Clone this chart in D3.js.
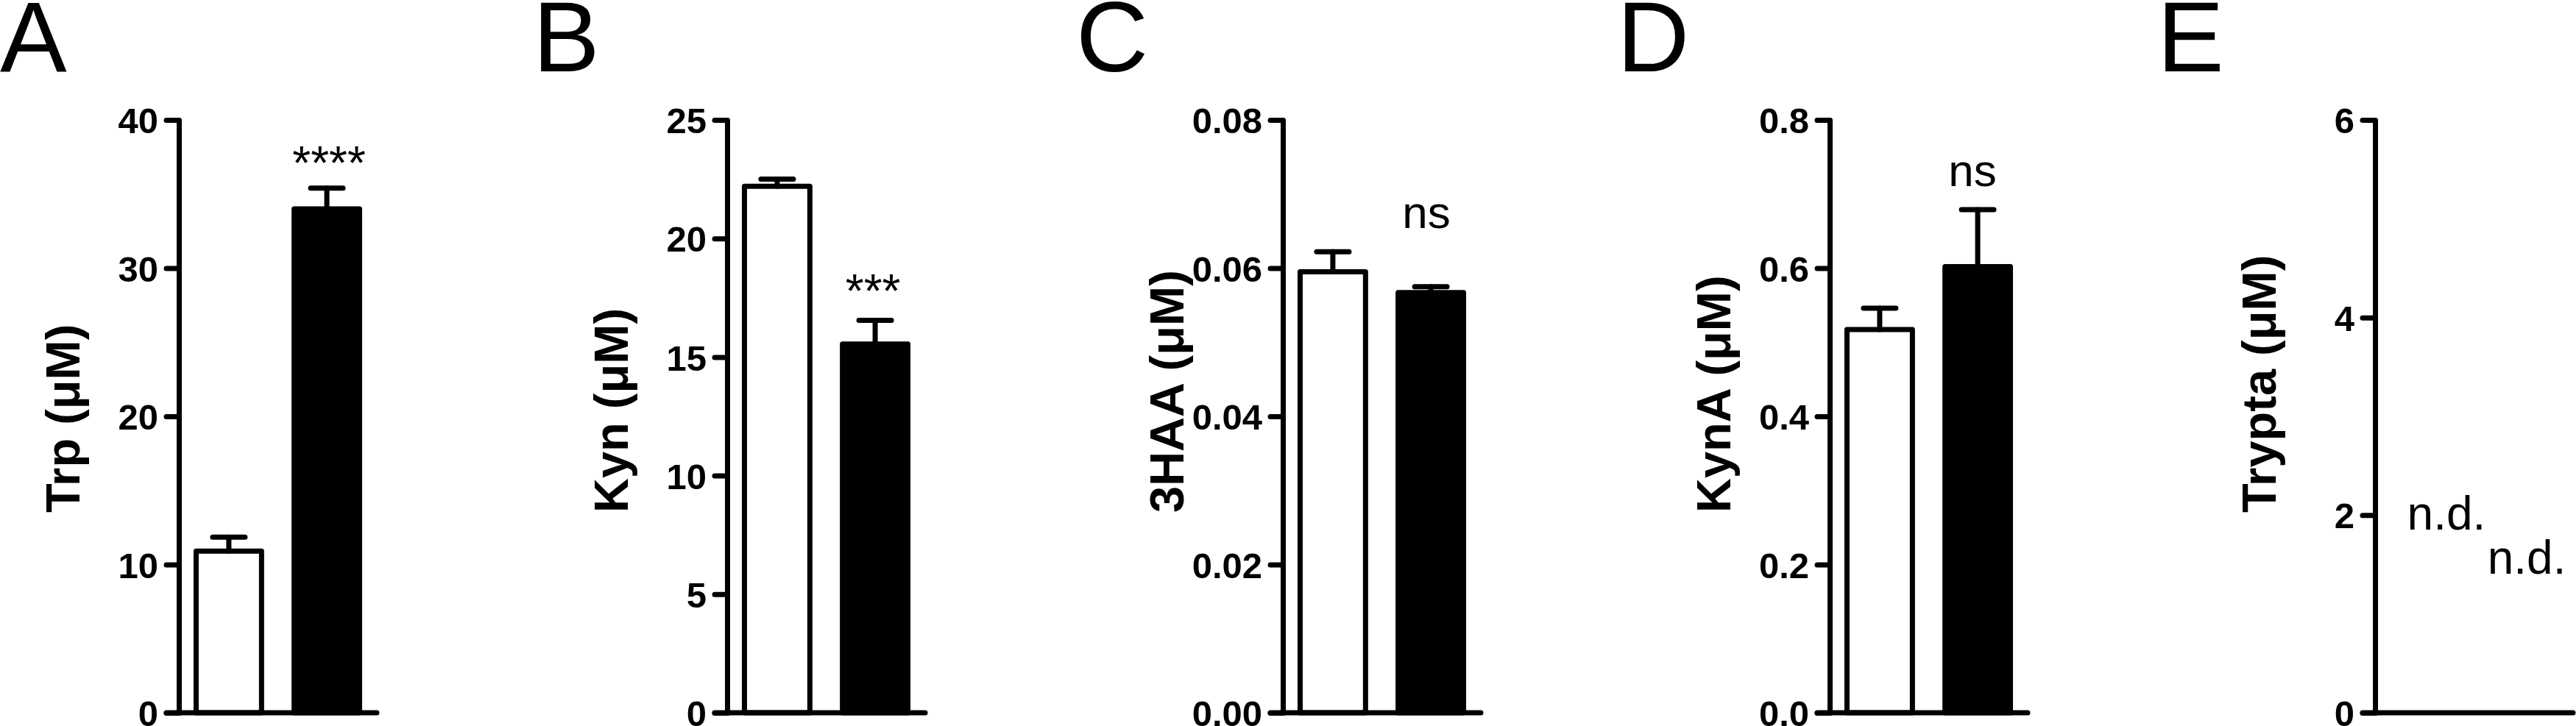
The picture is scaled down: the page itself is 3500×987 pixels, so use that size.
<!DOCTYPE html>
<html>
<head>
<meta charset="utf-8">
<script src="https://cdn.jsdelivr.net/npm/d3@7"></script>
<style>
  body { margin: 0; background: #fff; }
  svg { display: block; font-family: "Liberation Sans", Arial, Helvetica, sans-serif; }
  .axis path, .axis line { stroke: #000; stroke-width: 7; stroke-linecap: round; }
  .axis text { font-size: 49px; font-weight: bold; fill: #000; }
</style>
</head>
<body>
<div id="chart"></div>
<script>
// ---- data ----
var groups = ["Control", "Treated"];
var panelLetters = ["A", "B", "C", "D", "E"];
var yTitles = ["Trp (μM)", "Kyn (μM)", "3HAA (μM)", "KynA (μM)", "Trypta (μM)"];
var yMax = [40, 25, 0.08, 0.8, 6];
var yTicks = [
  [0, 10, 20, 30, 40],
  [0, 5, 10, 15, 20, 25],
  [0, 0.02, 0.04, 0.06, 0.08],
  [0, 0.2, 0.4, 0.6, 0.8],
  [0, 2, 4, 6]
];
var tickFormats = ["d", "d", ".2f", ".1f", "d"];
var trpMean = [10.9, 34.0], trpSem = [0.95, 1.4];
var kynMean = [22.2, 15.55], kynSem = [0.3, 1.0];
var haaMean = [0.0595, 0.0567], haaSem = [0.0027, 0.0008];
var kynaMean = [0.517, 0.602], kynaSem = [0.029, 0.077];
var tryptaMean = [null, null], tryptaSem = [null, null];   // not detected
var means = [trpMean, kynMean, haaMean, kynaMean, tryptaMean];
var sems = [trpSem, kynSem, haaSem, kynaSem, tryptaSem];
var annotations = [["", "****"], ["", "***"], ["", "ns"], ["", "ns"], ["n.d.", "n.d."]];

// ---- layout ----
var width = 3500, height = 987;
var axisX = [243, 988, 1743, 2486, 3227];
var letterX = [0, 724, 1462, 2197, 2931];
var yTop = 163, yBottom = 969;
var annotY = [[0, 36.0], [0, 17.1], [0, 0.0654], [0, 0.711], [1.85, 1.41]];
var annotDx = [[0, 3], [0, -3], [0, -6], [0, -7], [29, 5]];
var annotSize = [64, 64, 62, 62, 64];
var sw = 7;

var svg = d3.select("#chart").append("svg")
  .attr("width", width)
  .attr("height", height);

svg.append("rect").attr("width", width).attr("height", height).attr("fill", "#fff");

panelLetters.forEach(function(letter, i) {
  // panel letter
  svg.append("text")
    .attr("x", letterX[i])
    .attr("y", 97)
    .attr("font-size", 136)
    .attr("fill", "#000")
    .text(letter);

  var g = svg.append("g").attr("transform", "translate(" + axisX[i] + ",0)");

  var y = d3.scaleLinear().domain([0, yMax[i]]).range([yBottom, yTop]);
  var x = d3.scaleBand().domain(groups).range([0, 269]).paddingInner(0.28).paddingOuter(0.15);

  // bars
  var data = groups.map(function(gr, j) {
    return { group: gr, mean: means[i][j], sem: sems[i][j], idx: j };
  });
  var valid = data.filter(function(d) { return d.mean !== null; });

  g.selectAll(".bar")
    .data(valid)
    .enter().append("rect")
      .attr("class", "bar")
      .attr("x", function(d) { return x(d.group) + sw / 2; })
      .attr("y", function(d) { return y(d.mean); })
      .attr("width", x.bandwidth() - sw)
      .attr("height", function(d) { return y(0) - y(d.mean); })
      .attr("fill", function(d) { return d.idx === 0 ? "#fff" : "#000"; })
      .attr("stroke", "#000")
      .attr("stroke-width", sw)
      .attr("stroke-linejoin", "round");

  // error bars (upper only)
  var eb = g.selectAll(".err")
    .data(valid)
    .enter().append("g")
      .attr("class", "err")
      .attr("stroke", "#000")
      .attr("stroke-width", sw)
      .attr("stroke-linecap", "round");
  eb.append("line")
    .attr("x1", function(d) { return x(d.group) + x.bandwidth() / 2; })
    .attr("x2", function(d) { return x(d.group) + x.bandwidth() / 2; })
    .attr("y1", function(d) { return y(d.mean); })
    .attr("y2", function(d) { return y(d.mean + d.sem); });
  eb.append("line")
    .attr("x1", function(d) { return x(d.group) + x.bandwidth() / 2 - 22; })
    .attr("x2", function(d) { return x(d.group) + x.bandwidth() / 2 + 22; })
    .attr("y1", function(d) { return y(d.mean + d.sem); })
    .attr("y2", function(d) { return y(d.mean + d.sem); });

  // y axis
  g.append("g")
    .attr("class", "axis")
    .call(d3.axisLeft(y)
      .tickValues(yTicks[i])
      .tickFormat(d3.format(tickFormats[i]))
      .tickSize(17)
      .tickSizeOuter(0)
      .tickPadding(11));
  g.selectAll(".axis text").attr("dy", "0.36em");
  if (i === 4) g.selectAll(".axis text").attr("font-size", 46);

  // x baseline
  g.append("line")
    .attr("x1", -17).attr("x2", 269)
    .attr("y1", y(0)).attr("y2", y(0))
    .attr("stroke", "#000")
    .attr("stroke-width", sw)
    .attr("stroke-linecap", "round");

  // y title
  g.append("text")
    .attr("transform", "translate(-135,697) rotate(-90)")
    .attr("text-anchor", "start")
    .attr("font-size", 65)
    .attr("font-weight", "bold")
    .attr("fill", "#000")
    .text(yTitles[i]);

  // significance / n.d. labels
  annotations[i].forEach(function(t, j) {
    if (!t) return;
    g.append("text")
      .attr("x", x(groups[j]) + x.bandwidth() / 2 + annotDx[i][j])
      .attr("y", y(annotY[i][j]))
      .attr("text-anchor", "middle")
      .attr("font-size", annotSize[i])
      .attr("fill", "#000")
      .text(t);
  });
});
</script>
</body>
</html>
